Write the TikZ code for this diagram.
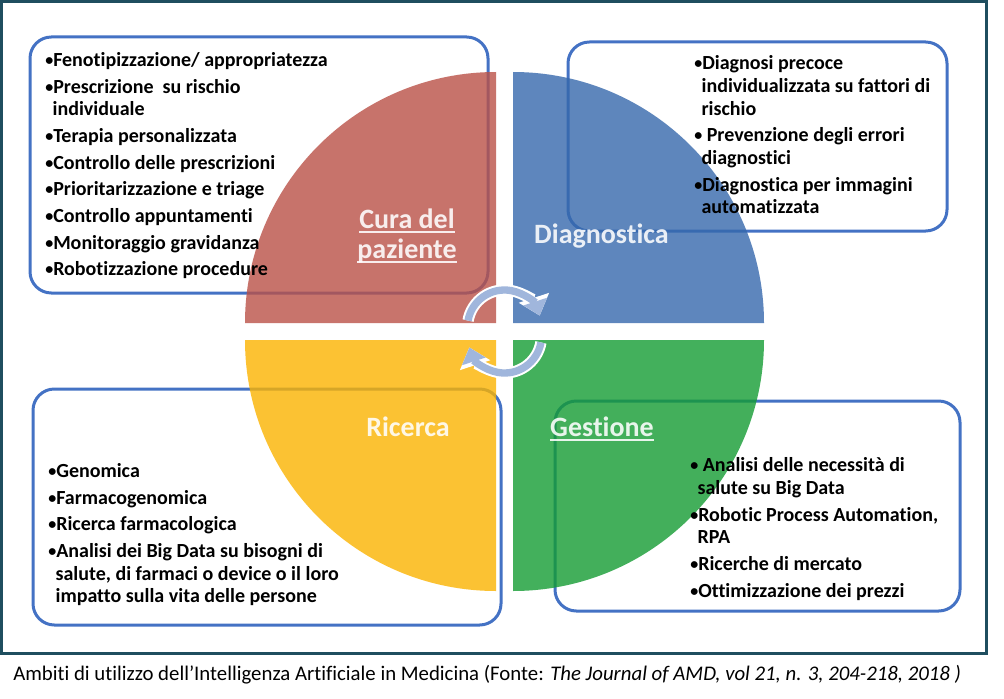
\documentclass[tikz,border=0pt]{standalone}
\usepackage{fontspec}
\setmainfont{Carlito}[Ligatures=NoCommon]
\usepackage{tikz}
\usetikzlibrary{arrows.meta,positioning}

\definecolor{framecol}{RGB}{31,78,95}
\definecolor{boxblue}{RGB}{68,114,196}
\definecolor{curared}{RGB}{186,81,71}
\definecolor{diagblue}{RGB}{54,104,172}
\definecolor{ricyellow}{RGB}{251,179,0}
\definecolor{gestgreen}{RGB}{20,156,51}
\definecolor{turncol}{RGB}{160,182,220}

\newcommand{\undl}[1]{\sbox0{#1}\rlap{\rule[-3.5pt]{\wd0}{1.2pt}}\box0}
\newcommand{\bul}{\makebox[6pt][l]{\raisebox{0.6pt}{\scalebox{0.8}{•}}}}
\newcommand{\hang}{\hspace*{5.5pt}}

\begin{document}
\begin{tikzpicture}[x=0.75pt,y=0.75pt,
  card/.style={draw=boxblue,line width=2.25pt,fill=white,rounded corners=16pt},
  sector/.style={fill opacity=0.8},
  itemlist/.style={anchor=north west,align=left,font=\fontsize{15}{17}\selectfont\bfseries},
  sectorlabel/.style={text=white,text opacity=0.88,align=center,font=\fontsize{21}{22.5}\selectfont\bfseries},
  turnedge/.style={line width=8.5pt,draw=white,-{Triangle[length=14pt,width=23pt]}},
  turnarrow/.style={line width=5.5pt,draw=turncol,-{Triangle[length=11pt,width=18pt]}}]
\tikzstyle{every node}+=[inner sep=0pt]
\useasboundingbox (0,0) rectangle (1004,-699);
\draw [framecol,line width=2.25pt] (1.5,-1.5) rectangle (986,-653);
% text boxes
\draw [card] (30,-37) rectangle (488,-293);
\draw [card] (568,-42) rectangle (947,-231);
\draw [card] (33,-389) rectangle (501,-625);
\draw [card] (555,-401) rectangle (960,-611);
% the four quarters
\fill [curared,sector] (496,-323) -- (245,-323) arc[start angle=180,end angle=90,radius=188.25pt] -- cycle;
\fill [diagblue,sector] (513,-323) -- (513,-72) arc[start angle=90,end angle=0,radius=188.25pt] -- cycle;
\fill [ricyellow,sector] (496,-340) -- (496,-591) arc[start angle=270,end angle=180,radius=188.25pt] -- cycle;
\fill [gestgreen,sector] (513,-340) -- (764,-340) arc[start angle=0,end angle=-90,radius=188.25pt] -- cycle;
% arrows in the middle
\coordinate (upturn) at (504.5,-327);
\coordinate (downturn) at (504.5,-336);
\draw [turnedge] (upturn) ++(170:27.75pt) arc[start angle=170,end angle=18,radius=27.75pt];
\draw [turnarrow] (upturn) ++(170:27.75pt) arc[start angle=170,end angle=18,radius=27.75pt];
\draw [turnedge] (downturn) ++(-10:27.75pt) arc[start angle=-10,end angle=-162,radius=27.75pt];
\draw [turnarrow] (downturn) ++(-10:27.75pt) arc[start angle=-10,end angle=-162,radius=27.75pt];
% labels
\node [sectorlabel,anchor=north] (cura) at (407,-207) {\strut\undl{Cura del}\\\undl{paziente}};
\node [sectorlabel,anchor=base] (diag) at (601.5,-243) {Diagnostica};
\node [sectorlabel,anchor=base] (ric) at (408,-436) {Ricerca};
\node [sectorlabel,anchor=base] (gest) at (602,-436) {\undl{Gestione}};
% lists
\node [itemlist] (curalist) at (45,-50.3) {\strut\bul Fenotipizzazione/ appropriatezza\\[3pt]
  \bul Prescrizione\ \ su rischio\\ \hang individuale\\[3pt]
  \bul Terapia personalizzata\\[3pt]
  \bul Controllo delle prescrizioni\\[3pt]
  \bul Prioritarizzazione e triage\\[3pt]
  \bul Controllo appuntamenti\\[3pt]
  \bul Monitoraggio gravidanza\\[3pt]
  \bul Robotizzazione procedure};
\node [itemlist] (diaglist) at (694,-53.6) {\strut\bul Diagnosi precoce\\ \hang individualizzata su fattori di\\ \hang rischio\\[3pt]
  \bul\ Prevenzione degli errori\\ \hang diagnostici\\[3pt]
  \bul Diagnostica per immagini\\ \hang automatizzata};
\node [itemlist] (riclist) at (48,-461.3) {\strut\bul Genomica\\[3pt]
  \bul Farmacogenomica\\[3pt]
  \bul Ricerca farmacologica\\[3pt]
  \bul Analisi dei Big Data su bisogni di\\ \hang salute, di farmaci o device o il loro\\ \hang impatto sulla vita delle persone};
\node [itemlist] (gestlist) at (690,-455.6) {\strut\bul\ Analisi delle necessità di\\ \hang salute su Big Data\\[3pt]
  \bul Robotic Process Automation,\\ \hang RPA\\[3pt]
  \bul Ricerche di mercato\\[3pt]
  \bul Ottimizzazione dei prezzi};
% caption
\node [anchor=base west,font=\fontsize{15.6}{19}\selectfont] (caption) at (13,-680) {Ambiti di utilizzo dell’Intelligenza Artificiale in Medicina (Fonte: \textit{The Journal of AMD, vol 21, n. 3, 204-218, 2018 )}};
\end{tikzpicture}
\end{document}
